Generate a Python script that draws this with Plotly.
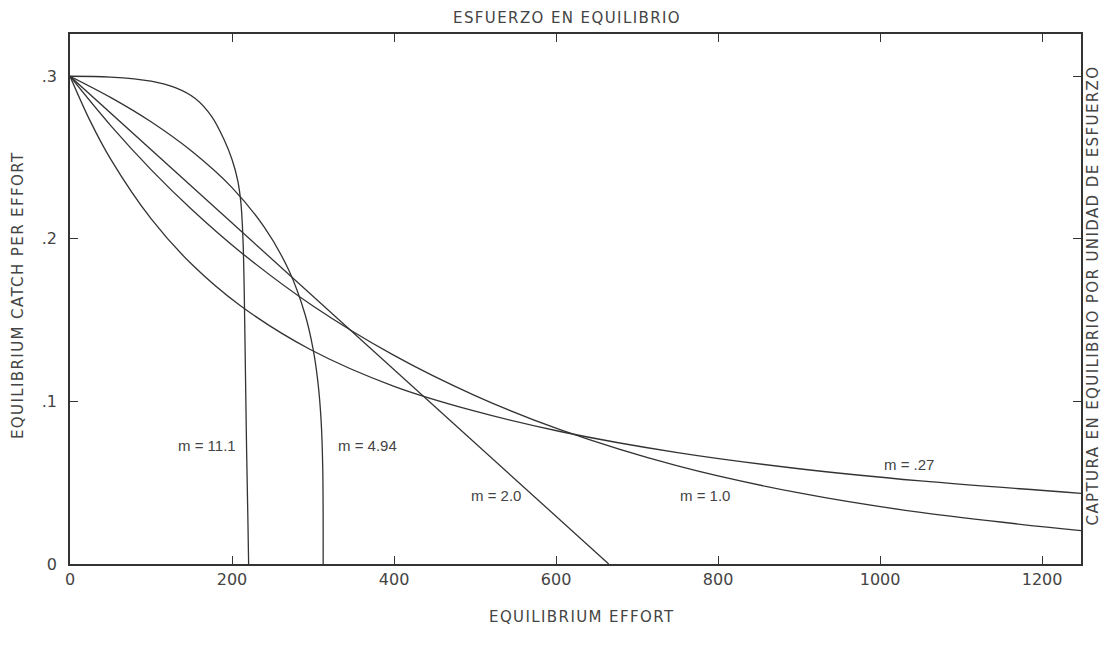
import plotly.graph_objects as go

# ---- data ----
effort_m11 = [0, 50, 100, 130, 155, 175, 190, 200, 207, 211, 213.5, 215, 216.5, 218, 219.5, 220.5]
cpue_m11 = [0.300, 0.2995, 0.2970, 0.2930, 0.2862, 0.2752, 0.2612, 0.2488, 0.2360, 0.2220, 0.2000, 0.1700, 0.1200, 0.0700, 0.0300, 0.0]

effort_m494 = [0, 50, 100, 150, 200, 240, 270, 290, 300, 306, 310, 312, 312.5]
cpue_m494 = [0.300, 0.287, 0.272, 0.254, 0.2315, 0.207, 0.1808, 0.1538, 0.1325, 0.112, 0.088, 0.0586, 0.0]

effort_m2 = [0, 665]
cpue_m2 = [0.300, 0.0]

effort_m1 = [0, 50, 100, 150, 210, 300, 400, 500, 605, 750, 900, 1050, 1248]
cpue_m1 = [0.300, 0.2698, 0.2426, 0.2182, 0.1921, 0.1587, 0.1283, 0.1036, 0.0826, 0.0603, 0.0437, 0.0317, 0.0205]

effort_m027 = [0, 25, 50, 100, 150, 210, 296, 400, 500, 605, 750, 900, 1050, 1248]
cpue_m027 = [0.300, 0.2724, 0.2492, 0.2124, 0.1845, 0.1590, 0.1321, 0.1093, 0.0940, 0.0815, 0.0685, 0.0586, 0.0511, 0.0435]

curve_labels = ["m = 11.1", "m = 4.94", "m = 2.0", "m = 1.0", "m = .27"]

x_tickvals = [0, 200, 400, 600, 800, 1000, 1200]
x_ticktext = ["0", "200", "400", "600", "800", "1000", "1200"]
y_tickvals = [0, 0.1, 0.2, 0.3]
y_ticktext = ["0", ".1", ".2", ".3"]

title_top = "ESFUERZO EN EQUILIBRIO"
title_x = "EQUILIBRIUM EFFORT"
title_y_left = "EQUILIBRIUM CATCH PER EFFORT"
title_y_right = "CAPTURA EN EQUILIBRIO POR UNIDAD DE ESFUERZO"

# ---- figure ----
LINE = "#333333"
INK = "#444444"
FONT = "DejaVu Sans"
LABEL_FONT = "Liberation Sans"


def spaced(text, px=1.4):
    return f"<span style='letter-spacing:{px}px'>{text}</span>"


fig = go.Figure()
series = [
    (effort_m11, cpue_m11, "spline"),
    (effort_m494, cpue_m494, "spline"),
    (effort_m2, cpue_m2, "linear"),
    (effort_m1, cpue_m1, "spline"),
    (effort_m027, cpue_m027, "spline"),
]
for (xs, ys, shape), name in zip(series, curve_labels):
    line = dict(color=LINE, width=1.3, shape=shape)
    if shape == "spline":
        line["smoothing"] = 1.0
    fig.add_trace(go.Scatter(x=xs, y=ys, mode="lines", name=name, line=line,
                             showlegend=False, hoverinfo="x+y+name"))

label_pos = [(169, 0.073), (367, 0.073), (526, 0.042), (784, 0.042), (1036, 0.061)]
for text, (lx, ly) in zip(curve_labels, label_pos):
    fig.add_annotation(x=lx, y=ly, text=text, showarrow=False,
                       font=dict(family=LABEL_FONT, size=15, color=INK))

title_font = dict(family=FONT, size=15, color=INK)
fig.add_annotation(xref="paper", yref="paper", x=0.4916, y=1.030, text=spaced(title_top),
                   showarrow=False, font=title_font, yanchor="middle")
fig.add_annotation(xref="paper", yref="paper", x=0.506, y=-0.100, text=spaced(title_x),
                   showarrow=False, font=title_font, yanchor="middle")
fig.add_annotation(xref="paper", yref="paper", x=-0.0514, y=0.5075, text=spaced(title_y_left),
                   showarrow=False, font=title_font, textangle=-90, xanchor="center")
fig.add_annotation(xref="paper", yref="paper", x=1.0115, y=0.506, text=spaced(title_y_right),
                   showarrow=False, font=title_font, textangle=-90, xanchor="center")

axis_common = dict(
    showgrid=False, zeroline=False, showline=True, linecolor=LINE, linewidth=1.5,
    mirror="ticks", ticks="inside", ticklen=8, tickwidth=1.3, tickcolor=LINE,
    tickfont=dict(family=FONT, size=16, color=INK),
)
fig.update_xaxes(range=[0, 1248], tickvals=x_tickvals, ticktext=x_ticktext, **axis_common)
fig.update_yaxes(range=[0, 0.326], tickvals=y_tickvals, ticktext=y_ticktext,
                 ticklabelstandoff=8, **axis_common)

# page body has an 8px margin, so the figure is sized to fill the 1110x648 window exactly
fig.update_layout(
    width=1094, height=632,
    margin=dict(l=62, r=21, t=26, b=76),
    paper_bgcolor="white", plot_bgcolor="white",
    font=dict(family=FONT, color=INK),
)

fig.write_html("out.html")
